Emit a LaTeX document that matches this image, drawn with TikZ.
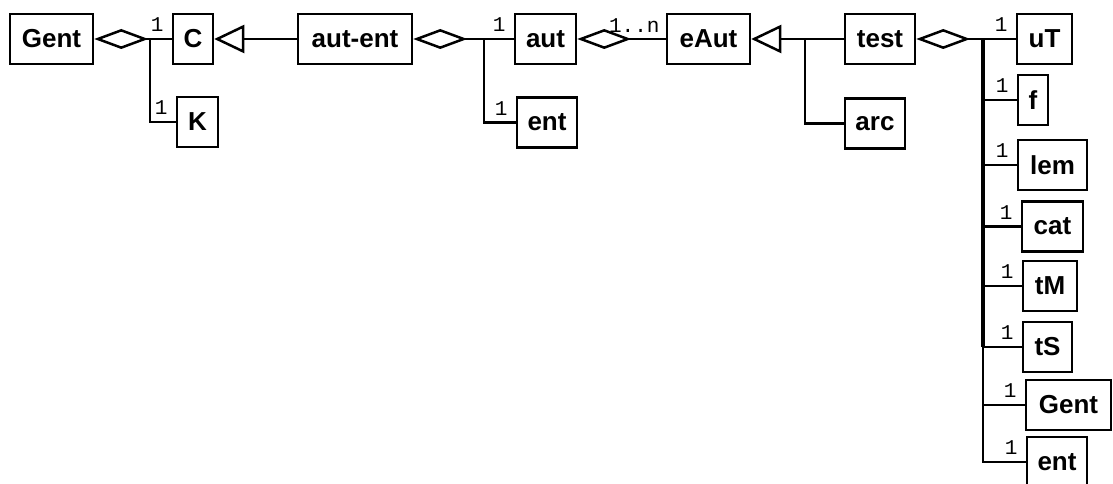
\documentclass[tikz,border=0pt]{standalone}
\usepackage{fontspec}
\setmainfont{Liberation Sans}
\newfontfamily\lblfont{Liberation Mono}
\usetikzlibrary{arrows.meta}
\begin{document}
\begin{tikzpicture}[x=1pt,y=-1pt, line width=2.5pt,
  box/.style={draw, line width=2.5pt, minimum height=50pt, inner sep=0pt,
    font=\fontsize{26}{30}\selectfont\bfseries},
  mult/.style={inner sep=0pt, anchor=south east,
    font=\fontsize{21}{24}\selectfont\lblfont},
  agg/.style={{Diamond[open,length=54pt,width=20pt]}-},
  inh/.style={-{Triangle[open,length=30pt,width=28pt]}},
  trunk/.style={line width=4pt},
]
\useasboundingbox (0,0) rectangle (1113,484);
% boxes
\node[box, minimum width=83pt] (gentA) at (51.5,39) {Gent};
\node[box, minimum width=40pt] (C) at (193,39) {C};
\node[box, minimum width=41pt] (K) at (197.5,122) {K};
\node[box, minimum width=114pt] (autent) at (355,39) {aut-ent};
\node[box, minimum width=61pt] (aut) at (545.5,39) {aut};
\node[box, minimum width=60pt] (entA) at (547,122.5) {ent};
\node[box, minimum width=83pt] (eAut) at (708.5,39) {eAut};
\node[box, minimum width=70pt] (test) at (880,39) {test};
\node[box, minimum width=60pt] (arc) at (875,123.5) {arc};
\node[box, minimum width=55pt] (uT) at (1044.5,39) {uT};
\node[box, minimum width=30pt] (f) at (1033,100) {f};
\node[box, minimum width=69pt] (lem) at (1052.5,165) {lem};
\node[box, minimum width=61pt] (cat) at (1052.5,226.5) {cat};
\node[box, minimum width=54pt] (tM) at (1050,286) {tM};
\node[box, minimum width=49pt] (tS) at (1047.5,347) {tS};
\node[box, minimum width=85pt] (gentB) at (1068.5,405) {Gent};
\node[box, minimum width=60pt] (entB) at (1057,462) {ent};
% junctions
\coordinate (j1) at (150,39);
\coordinate (j2) at (484,39);
\coordinate (j3) at (805,39);
\coordinate (j4) at (983,39);
% Gent -- C, K
\draw[agg] (gentA.east) -- (j1);
\draw (j1) -- (C.west);
\draw (j1) |- (K.west);
% aut-ent -> C
\draw[inh] (autent.west) -- (C.east);
% aut-ent -- aut, ent
\draw[agg] (autent.east) -- (j2);
\draw (j2) -- (aut.west);
\draw (j2) |- (entA.west);
% aut -- eAut
\draw[agg] (aut.east) -- (eAut.west);
% test, arc -> eAut
\draw[inh] (test.west) -- (j3) -- (eAut.east);
\draw (j3) |- (arc.west);
% test -- parts
\draw[agg] (test.east) -- (j4);
\draw (j4) -- (uT.west);
\draw (j4) |- (f.west);
\draw (j4) |- (lem.west);
\draw (j4) |- (cat.west);
\draw (j4) |- (tM.west);
\draw (j4) |- (tS.west);
\draw (j4) |- (gentB.west);
\draw (j4) |- (entB.west);
\draw[trunk] (j4) -- (j4 |- tS.west);
% multiplicities
\node[mult] (mC) at ([xshift=-7pt,yshift=6pt]C.west) {1};
\node[mult] (mK) at ([xshift=-7pt,yshift=6pt]K.west) {1};
\node[mult] (maut) at ([xshift=-7pt,yshift=6pt]aut.west) {1};
\node[mult] (mentA) at ([xshift=-7pt,yshift=6pt]entA.west) {1};
\node[mult] (meAut) at ([xshift=-5pt,yshift=5pt]eAut.west) {1..n};
\node[mult] (muT) at ([xshift=-7pt,yshift=6pt]uT.west) {1};
\node[mult] (mf) at ([xshift=-7pt,yshift=6pt]f.west) {1};
\node[mult] (mlem) at ([xshift=-7pt,yshift=6pt]lem.west) {1};
\node[mult] (mcat) at ([xshift=-7pt,yshift=6pt]cat.west) {1};
\node[mult] (mtM) at ([xshift=-7pt,yshift=6pt]tM.west) {1};
\node[mult] (mtS) at ([xshift=-7pt,yshift=6pt]tS.west) {1};
\node[mult] (mgentB) at ([xshift=-7pt,yshift=6pt]gentB.west) {1};
\node[mult] (mentB) at ([xshift=-7pt,yshift=6pt]entB.west) {1};
\end{tikzpicture}
\end{document}
